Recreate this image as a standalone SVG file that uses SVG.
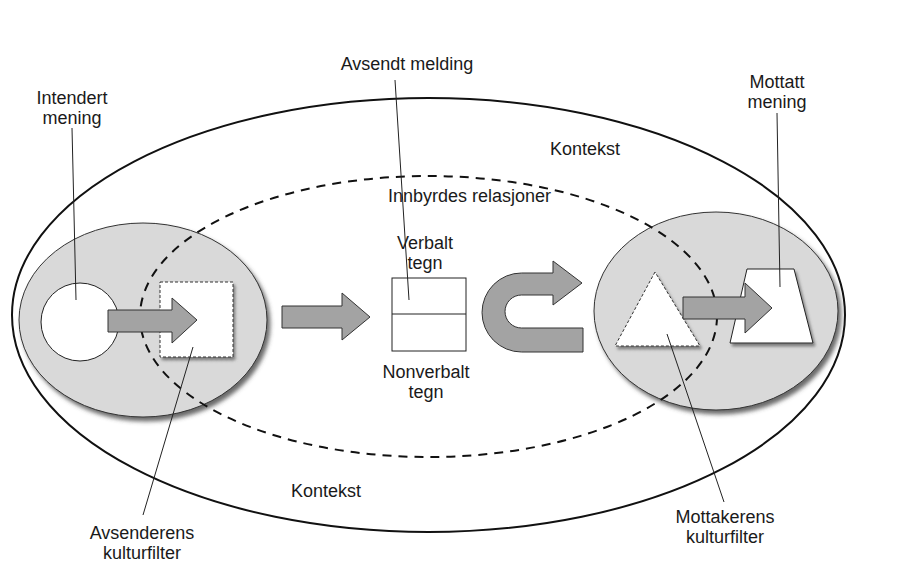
<svg xmlns="http://www.w3.org/2000/svg" width="897" height="585" viewBox="0 0 897 585">
<style>
  text { font-family: "Liberation Sans", Arial, sans-serif; font-size: 18px; fill: #1a1a1a; }
  .lead { stroke: #222; stroke-width: 1; fill: none; }
  .gray { fill: #d9d9d9; stroke: #333; stroke-width: 1; }
  .arrow { fill: #a3a3a3; stroke: #333; stroke-width: 1; }
  .white { fill: #fff; stroke: #222; stroke-width: 1; }
</style>
<defs>
  <filter id="shadow" x="-10%" y="-10%" width="130%" height="130%">
    <feDropShadow dx="3" dy="4" stdDeviation="2" flood-color="#444" flood-opacity="0.8"/>
  </filter>
  <filter id="shadowSm" x="-10%" y="-10%" width="130%" height="130%">
    <feDropShadow dx="2" dy="3" stdDeviation="1.5" flood-color="#555" flood-opacity="0.7"/>
  </filter>
</defs>
<rect width="897" height="585" fill="#fff"/>

<g id="context">
  <ellipse cx="428.5" cy="315" rx="416.5" ry="217" fill="none" stroke="#111" stroke-width="2"/>
  <text x="550" y="155">Kontekst</text>
  <text x="291" y="497">Kontekst</text>
</g>

<g id="sender-filter">
  <ellipse class="gray" cx="143" cy="320" rx="124" ry="97" filter="url(#shadow)"/>
</g>
<g id="receiver-filter">
  <ellipse class="gray" cx="716" cy="311" rx="122" ry="99" filter="url(#shadow)"/>
</g>

<g id="relations">
  <ellipse cx="428.5" cy="316.5" rx="288.5" ry="140.5" fill="none" stroke="#111" stroke-width="2" stroke-dasharray="9,7"/>
  <text x="388" y="202">Innbyrdes relasjoner</text>
</g>

<g id="intended-meaning">
  <circle class="white" cx="80" cy="322" r="39"/>
  <text x="72" y="104" text-anchor="middle">Intendert</text>
  <text x="72" y="124" text-anchor="middle">mening</text>
</g>

<g id="sender-square">
  <rect x="160" y="282" width="73" height="75" fill="#fff" stroke="#333" stroke-width="1" stroke-dasharray="3,2" filter="url(#shadowSm)"/>
</g>

<g id="message">
  <rect class="white" x="392" y="278" width="74" height="73"/>
  <line x1="392" y1="314" x2="466" y2="314" stroke="#222" stroke-width="1"/>
  <text x="425" y="249" text-anchor="middle">Verbalt</text>
  <text x="425" y="269" text-anchor="middle">tegn</text>
  <text x="426" y="378" text-anchor="middle">Nonverbalt</text>
  <text x="426" y="398" text-anchor="middle">tegn</text>
  <text x="407" y="70" text-anchor="middle">Avsendt melding</text>
</g>

<g id="receiver-triangle">
  <polygon points="655,272 615,346 700,346" fill="#fff" stroke="#333" stroke-width="1" stroke-dasharray="3,2" filter="url(#shadowSm)"/>
</g>

<g id="received-meaning">
  <polygon points="747,269 794,269 813,343 730,343" fill="#fff" stroke="#222" stroke-width="1" filter="url(#shadowSm)"/>
  <text x="777" y="88" text-anchor="middle">Mottatt</text>
  <text x="777" y="108" text-anchor="middle">mening</text>
</g>

<g id="arrows">
  <polygon class="arrow" points="108,310 172,310 172,298 197,320 172,343 172,332 108,332"/>
  <polygon class="arrow" points="282,306 342,306 342,293 370,317 342,340 342,328 282,328"/>
  <path class="arrow" d="M553,273 L521.5,273 A39.5,39.5 0 0 0 521.5,352 L583,352 L583,328 L521.5,328 A16.5,16.5 0 0 1 521.5,295 L553,295 L553,305 L582,283 L553,261 Z"/>
  <polygon class="arrow" points="683,297 745,297 745,283 772,308 745,333 745,319 683,319"/>
</g>

<g id="connectors">
  <line class="lead" x1="72" y1="128" x2="76" y2="300"/>
  <line class="lead" x1="395" y1="80" x2="409" y2="300"/>
  <line class="lead" x1="777" y1="113" x2="780" y2="287"/>
  <line class="lead" x1="143" y1="515" x2="193" y2="347"/>
  <line class="lead" x1="724" y1="502" x2="667" y2="334"/>
</g>

<g id="labels-bottom">
  <text x="142" y="539" text-anchor="middle">Avsenderens</text>
  <text x="142" y="559" text-anchor="middle">kulturfilter</text>
  <text x="725" y="523" text-anchor="middle">Mottakerens</text>
  <text x="725" y="543" text-anchor="middle">kulturfilter</text>
</g>
</svg>
